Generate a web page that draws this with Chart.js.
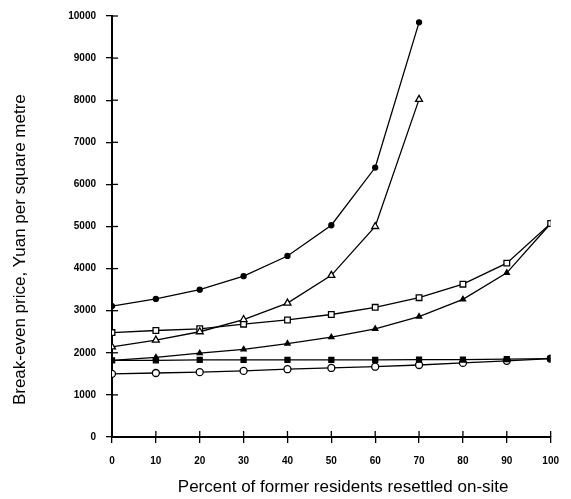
<!DOCTYPE html>
<html>
<head>
<meta charset="utf-8">
<script src="https://cdn.jsdelivr.net/npm/chart.js@4"></script>
<style>
html,body{margin:0;padding:0;background:#fff;}
#wrap{width:571px;height:499px;position:relative;}
</style>
</head>
<body>
<div id="wrap"><canvas id="c" width="571" height="499"></canvas></div>
<script>
const percentResettled = [0, 10, 20, 30, 40, 50, 60, 70, 80, 90, 100];
const yTicks = [0, 1000, 2000, 3000, 4000, 5000, 6000, 7000, 8000, 9000, 10000];
const xTitle = 'Percent of former residents resettled on-site';
const yTitle = 'Break-even price, Yuan per square metre';

const seriesFilledCircle   = [3110, 3280, 3500, 3820, 4300, 5030, 6400, 9850, null, null, null];
const seriesOpenTriangle   = [2140, 2300, 2500, 2790, 3180, 3840, 5000, 8020, null, null, null];
const seriesOpenSquare     = [2480, 2530, 2570, 2680, 2780, 2910, 3080, 3310, 3630, 4130, 5070];
const seriesFilledTriangle = [1820, 1890, 1990, 2080, 2220, 2370, 2570, 2860, 3270, 3900, 5070];
const seriesFilledSquare   = [1820, 1820, 1830, 1830, 1830, 1830, 1830, 1840, 1840, 1850, 1860];
const seriesOpenCircle     = [1500, 1520, 1540, 1570, 1610, 1640, 1670, 1710, 1760, 1810, 1860];

function pts(arr){ return percentResettled.map((x,i)=>({x:x,y:arr[i]})); }

function ds(data, style, radius, filled){
  return {
    data: pts(data),
    borderColor:'#000',
    borderWidth:1.3,
    pointStyle: style,
    pointRadius: radius,
    pointBorderWidth: 1.3,
    pointBorderColor:'#000',
    pointBackgroundColor: filled ? '#000' : '#fff',
    tension:0,
    spanGaps:false,
    fill:false
  };
}

const innerTicksAndTitles = {
  id:'innerTicksAndTitles',
  afterDraw(chart){
    const ctx = chart.ctx, xs = chart.scales.x, ys = chart.scales.y;
    ctx.save();
    ctx.strokeStyle='#000';
    ctx.lineWidth=1.3;
    ys.ticks.forEach(t=>{
      const y = ys.getPixelForValue(t.value);
      ctx.beginPath(); ctx.moveTo(xs.left, y); ctx.lineTo(xs.left+6, y); ctx.stroke();
    });
    xs.ticks.forEach(t=>{
      const x = xs.getPixelForValue(t.value);
      ctx.beginPath(); ctx.moveTo(x, ys.bottom); ctx.lineTo(x, ys.bottom-6); ctx.stroke();
    });
    // axis titles
    ctx.fillStyle='#000';
    ctx.font='17px "Liberation Sans"';
    ctx.textAlign='center';
    ctx.textBaseline='middle';
    ctx.fillText(xTitle, xs.left + (xs.right-xs.left)*0.527, xs.bottom - 12);
    ctx.translate(20, ys.top + (ys.bottom-ys.top)*0.555);
    ctx.rotate(-Math.PI/2);
    ctx.fillText(yTitle, 0, 0);
    ctx.restore();
  }
};

new Chart(document.getElementById('c'), {
  type:'line',
  data:{
    datasets:[
      ds(seriesFilledCircle,'circle',2.5,true),
      ds(seriesOpenTriangle,'triangle',4,false),
      ds(seriesOpenSquare,'rect',4,false),
      ds(seriesFilledTriangle,'triangle',3,true),
      ds(seriesFilledSquare,'rect',3.5,true),
      ds(seriesOpenCircle,'circle',3.5,false)
    ]
  },
  options:{
    responsive:false,
    animation:false,
    layout:{padding:{top:16,right:17,left:0,bottom:0}},
    plugins:{legend:{display:false},tooltip:{enabled:false}},
    scales:{
      x:{
        type:'linear', min:0, max:100,
        afterBuildTicks(s){ s.ticks = percentResettled.map(v=>({value:v})); },
        afterFit(s){ s.height = 62; },
        grid:{display:true, drawOnChartArea:false, drawTicks:true, tickLength:6, color:'#000', lineWidth:1.3},
        border:{display:true, color:'#000', width:2},
        ticks:{color:'#000', padding:12, maxRotation:0, callback:v=>String(v),
               font:{family:'Liberation Sans', size:10, weight:'bold'}},
        title:{display:false}
      },
      y:{
        type:'linear', min:0, max:10000,
        afterBuildTicks(s){ s.ticks = yTicks.map(v=>({value:v})); },
        afterFit(s){ s.width = 112; },
        grid:{display:true, drawOnChartArea:false, drawTicks:true, tickLength:6, color:'#000', lineWidth:1.3},
        border:{display:true, color:'#000', width:2},
        ticks:{color:'#000', padding:10, callback:v=>String(v),
               font:{family:'Liberation Sans', size:10, weight:'bold'}},
        title:{display:false}
      }
    }
  },
  plugins:[innerTicksAndTitles]
});
</script>
</body>
</html>
